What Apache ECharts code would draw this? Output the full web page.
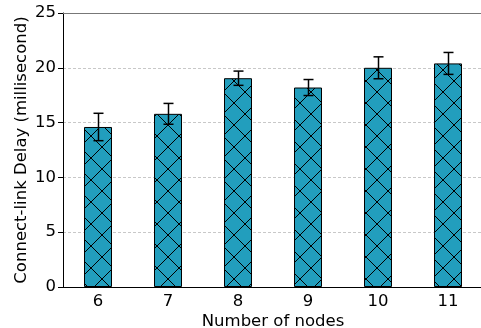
<!DOCTYPE html>
<html>
<head>
<meta charset="utf-8">
<script src="https://cdn.jsdelivr.net/npm/echarts@6/dist/echarts.min.js"></script>
<style>html,body{margin:0;padding:0;background:#fff}#c{width:481px;height:328px}</style>
</head>
<body>
<div id="c"></div>
<script>
const categories = ['6', '7', '8', '9', '10', '11'];
const delay = [14.6, 15.8, 19.05, 18.2, 20.0, 20.4];
const errs = [1.25, 0.95, 0.65, 0.73, 1.0, 1.0];
const yTicks = [0, 5, 10, 15, 20, 25];

const FILL = '#229ebd';
function hatch() {
  const s = 22;
  const cv = document.createElement('canvas');
  cv.width = s; cv.height = s;
  const g = cv.getContext('2d');
  g.fillStyle = FILL; g.fillRect(0, 0, s, s);
  g.strokeStyle = '#000'; g.lineWidth = 1;
  g.beginPath();
  [-15, 7, 29, 51].forEach(c => { g.moveTo(c + 10, -10); g.lineTo(c - 32, 32); });
  [-23, -1, 21, 43].forEach(d => { g.moveTo(d - 10, -10); g.lineTo(d + 32, 32); });
  g.stroke();
  return cv;
}

const chart = echarts.init(document.getElementById('c'), null, {renderer: 'canvas'});
const font = 'DejaVu Sans';
const fs = 16.5;
chart.setOption({
  animation: false,
  grid: {left: 63, top: 13, right: -2, bottom: 41, containLabel: false, outerBoundsMode: 'none'},
  xAxis: [{
    type: 'category', data: categories, boundaryGap: true,
    axisLine: {lineStyle: {color: '#000', width: 1}},
    axisTick: {alignWithLabel: true, length: 5, lineStyle: {color: '#000'}},
    axisLabel: {color: '#000', fontSize: fs, fontFamily: font, margin: 6},
    name: 'Number of nodes', nameLocation: 'middle', nameGap: 26, nameMoveOverlap: false,
    nameTextStyle: {color: '#000', fontSize: fs, fontFamily: font}
  }, {
    type: 'category', data: categories, position: 'top',
    axisLine: {lineStyle: {color: '#777', width: 1}},
    axisTick: {show: false}, axisLabel: {show: false}
  }],
  yAxis: {
    type: 'value', min: yTicks[0], max: yTicks[yTicks.length - 1], interval: 5,
    axisLine: {show: true, lineStyle: {color: '#000', width: 1}},
    axisTick: {show: true, length: 5, lineStyle: {color: '#000'}},
    axisLabel: {color: '#000', fontSize: fs, fontFamily: font, margin: 7},
    splitLine: {show: true, lineStyle: {color: '#c8c8c8', type: [3, 2], width: 1}},
    name: 'Connect-link Delay (millisecond)', nameLocation: 'middle', nameGap: 33, nameMoveOverlap: false,
    nameTextStyle: {color: '#000', fontSize: fs, fontFamily: font}
  },
  series: [{
    type: 'bar', data: delay, barWidth: 28,
    itemStyle: {color: {image: hatch(), repeat: 'repeat'}, borderColor: '#000', borderWidth: 1}
  }, {
    type: 'custom',
    data: delay.map((v, i) => [i, v - errs[i], v + errs[i]]),
    renderItem: function (params, api) {
      const lo = api.coord([api.value(0), api.value(1)]);
      const hi = api.coord([api.value(0), api.value(2)]);
      const x = Math.round(lo[0]) + 0.5;
      const w = 5;
      const st = {stroke: '#000', lineWidth: 1.5};
      return {type: 'group', children: [
        {type: 'line', shape: {x1: x, y1: hi[1], x2: x, y2: lo[1]}, style: st},
        {type: 'line', shape: {x1: x - w, y1: hi[1], x2: x + w, y2: hi[1]}, style: st},
        {type: 'line', shape: {x1: x - w, y1: lo[1], x2: x + w, y2: lo[1]}, style: st}
      ]};
    },
    z: 10
  }]
});
</script>
</body>
</html>
